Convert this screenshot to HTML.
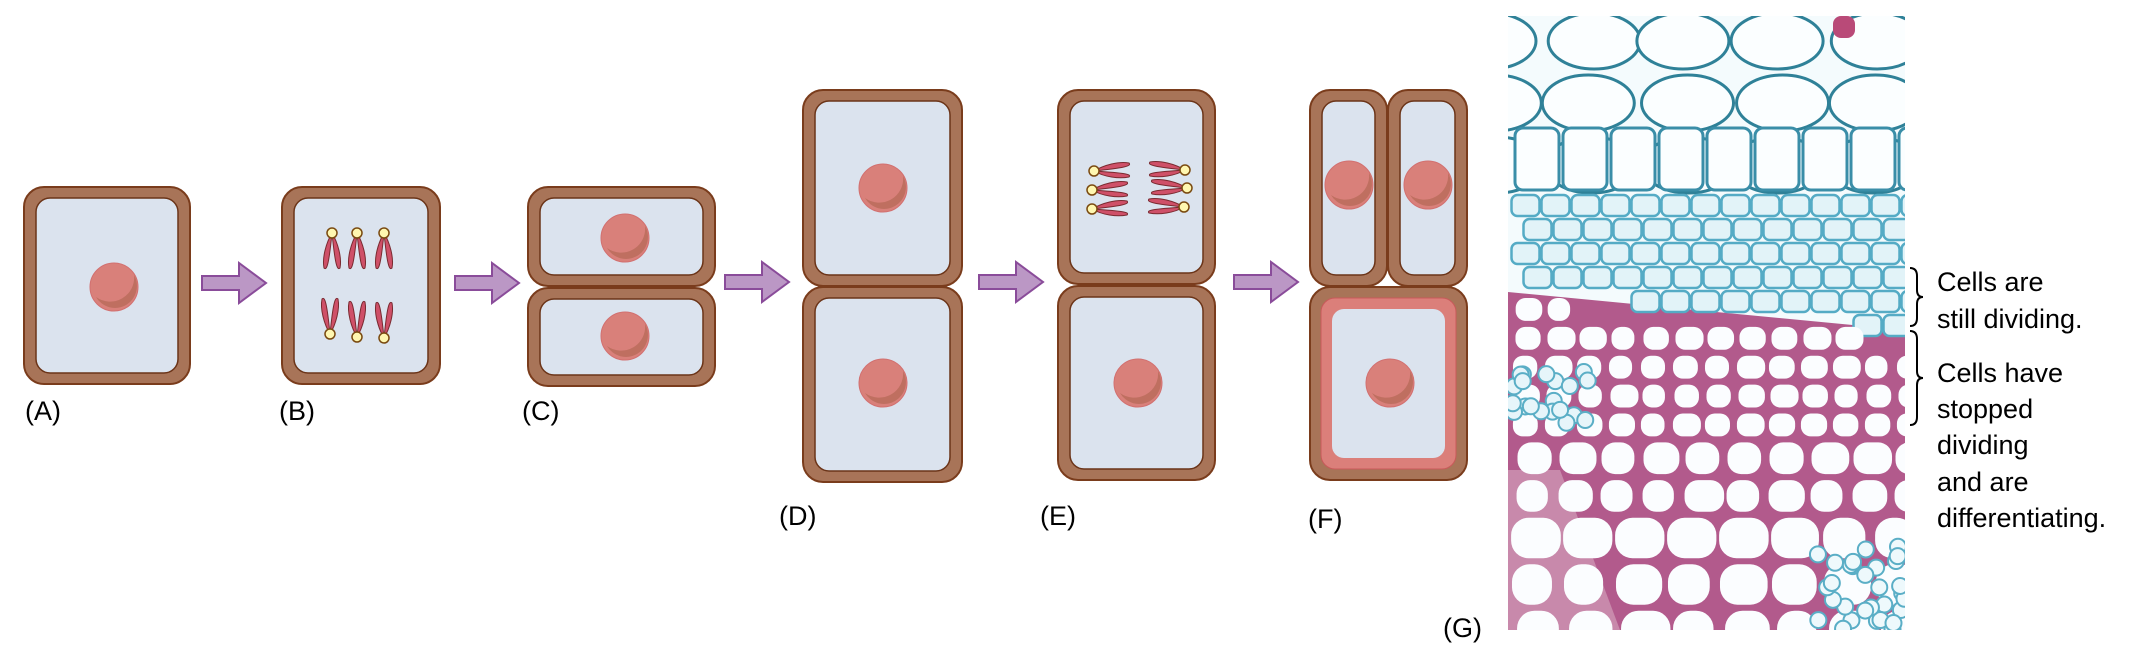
<!DOCTYPE html>
<html><head><meta charset="utf-8"><style>
html,body{margin:0;padding:0;background:#fff;width:2140px;height:650px;overflow:hidden}
svg{display:block}
text{font-family:"Liberation Sans",Arial,sans-serif;fill:#000}
</style></head><body>
<svg id="s" width="2140" height="650" viewBox="0 0 2140 650" xmlns="http://www.w3.org/2000/svg">
<defs>
<clipPath id="pc"><rect x="1508" y="16" width="397" height="614"/></clipPath>
<g id="nuc"><circle r="24" fill="#d9807a" stroke="#d27070" stroke-width="1"/><path d="M-18 10 A20 20 0 0 0 20 -12 A24 24 0 0 1 -18 10Z" fill="#b86a5a" opacity=".8"/></g>
<g id="arr"><path d="M0 -7 H37 V-20 L64 0 L37 20 V7 H0Z" fill="#bb97c5" stroke="#8a4c9a" stroke-width="2"/></g>
<g id="chu"><path d="M0 0 C-6 10 -10 25 -8 35 C-5 38 -3 30 0 0Z M0 0 C6 10 10 25 8 35 C5 38 3 30 0 0Z" fill="#cf5068" stroke="#7a2a30" stroke-width="1"/><circle r="5" fill="#fff7b0" stroke="#7a4a10" stroke-width="1.5"/></g>
<g id="chh"><path d="M0 0 C10 -6 25 -10 35 -8 C38 -5 30 -3 0 0Z M0 0 C10 6 25 8 35 6 C38 3 30 2 0 0Z" fill="#cf5068" stroke="#7a2a30" stroke-width="1"/><circle r="5" fill="#fff7b0" stroke="#7a4a10" stroke-width="1.5"/></g>
</defs>
<g id="cells"></g>
<g fill="#000" font-size="27">
<text x="25" y="420">(A)</text>
<text x="279" y="420">(B)</text>
<text x="522" y="420">(C)</text>
<text x="779" y="525">(D)</text>
<text x="1040" y="525">(E)</text>
<text x="1308" y="528">(F)</text>
<text x="1443" y="637">(G)</text>
</g>
<g clip-path="url(#pc)" id="photo"><rect x="1508" y="16" width="397" height="614" fill="#f4fbfd"/></g>
<g fill="none" stroke="#000" stroke-width="2">
<path d="M1910 268 q7 0 7 8 v14 q0 7 6 7 q-6 0 -6 7 v14 q0 8 -7 8"/>
<path d="M1910 331 q7 0 7 8 v32 q0 7 6 7 q-6 0 -6 7 v32 q0 8 -7 8"/>
</g>
<g font-size="27">
<text x="1937" y="291">Cells are</text>
<text x="1937" y="328">still dividing.</text>
<text x="1937" y="382">Cells have</text>
<text x="1937" y="418">stopped</text>
<text x="1937" y="454">dividing</text>
<text x="1937" y="491">and are</text>
<text x="1937" y="527">differentiating.</text>
</g>
</svg>
<script>
var NS="http://www.w3.org/2000/svg",g=document.getElementById('cells');
function el(t,a,p){var e=document.createElementNS(NS,t);for(var k in a)e.setAttribute(k,a[k]);(p||g).appendChild(e);return e;}
function cell(x1,y1,x2,y2,pink){
 el('rect',{x:x1,y:y1,width:x2-x1,height:y2-y1,rx:20,fill:'#a87458',stroke:'#7a3c1c','stroke-width':2});
 if(pink){el('rect',{x:x1+11,y:y1+11,width:x2-x1-22,height:y2-y1-22,rx:14,fill:'#db7f7a',stroke:'#c85a5a','stroke-width':1});
  el('rect',{x:x1+22,y:y1+22,width:x2-x1-44,height:y2-y1-44,rx:12,fill:'#dbe3ee'});}
 else el('rect',{x:x1+12,y:y1+11,width:x2-x1-24,height:y2-y1-22,rx:14,fill:'#dbe3ee',stroke:'#6b3418','stroke-width':1.5});
}
function use(id,x,y,extra){var e=el('use',{href:'#'+id,transform:'translate('+x+','+y+')'+(extra||'')});return e;}
cell(24,187,190,384);use('nuc',114,287);
use('arr',202,283);
cell(282,187,440,384);
[[332,233],[357,233],[384,233]].forEach(function(p){use('chu',p[0],p[1]);});
[[330,334],[357,337],[384,338]].forEach(function(p){use('chu',p[0],p[1],' rotate(180)');});
use('arr',455,283);
cell(528,187,715,286);cell(528,288,715,386);use('nuc',625,238);use('nuc',625,336);
use('arr',725,282);
cell(803,90,962,286);cell(803,287,962,482);use('nuc',883,188);use('nuc',883,383);
use('arr',979,282);
cell(1058,90,1215,284);cell(1058,286,1215,480);use('nuc',1138,383);
[[1094,171],[1092,190],[1092,209]].forEach(function(p){use('chh',p[0],p[1]);});
[[1185,170],[1187,188],[1184,207]].forEach(function(p){use('chh',p[0],p[1],' scale(-1,1)');});
use('arr',1234,282);
cell(1310,90,1387,286);cell(1388,90,1467,286);cell(1310,287,1467,480,true);
use('nuc',1349,185);use('nuc',1428,185);use('nuc',1390,383);
// photo
var ph=document.getElementById('photo');var seed=7;function r(){seed=(seed*16807)%2147483647;return seed/2147483647;}
function bnd(x){return 292+(x-1508)/397*38;}
el('path',{d:'M1508 292 L1905 330 L1905 630 L1508 630Z',fill:'#b25a8c'},ph);
el('path',{d:'M1508 470 L1560 470 L1620 630 L1508 630Z',fill:'#d7a8c0',opacity:.6},ph);
for(var y=16;y<160;y+=62){for(var x=1490+(y%2)*40;x<1910;x+=95){el('ellipse',{cx:x+r()*10,cy:y+25,rx:46,ry:28,fill:'#fbfeff',stroke:'#2f8198','stroke-width':3},ph);}}
for(var x=1515;x<1905;x+=48){el('rect',{x:x,y:128,width:44,height:62,rx:8,fill:'#fbfeff',stroke:'#3a8ea8','stroke-width':3},ph);}
for(var y=195;y<340;y+=24){for(var x=1510+((y/24)%2)*12;x<1905;x+=30){if(y+10<bnd(x))el('rect',{x:x,y:y,width:28,height:21,rx:6,fill:'#e2f3f8',stroke:'#55abc5','stroke-width':2.5},ph);}}
for(var y=298;y<640;){var h=y<420?26:(y<500?36:46);for(var x=1510+r()*8;x<1905;x+=h+6){if(y>bnd(x)+2){var w=h*(0.85+r()*0.25);el('rect',{x:x,y:y,width:w,height:h*0.88,rx:h*0.38,fill:'#fbfdff'},ph);}}y+=h*0.88+6;}
for(var i=0;i<30;i++){var cx=1815+r()*90,cy=545+r()*85;el('circle',{cx:cx,cy:cy,r:8,fill:'#eef9fc',stroke:'#5aaec6','stroke-width':2},ph);}
for(var i=0;i<20;i++){var cx=1512+r()*80,cy=370+r()*55;el('circle',{cx:cx,cy:cy,r:8,fill:'#e6f5fa',stroke:'#5aaec6','stroke-width':2},ph);}
el('rect',{x:1833,y:16,width:22,height:22,rx:8,fill:'#b94a78'},ph);
</script>
</body></html>
